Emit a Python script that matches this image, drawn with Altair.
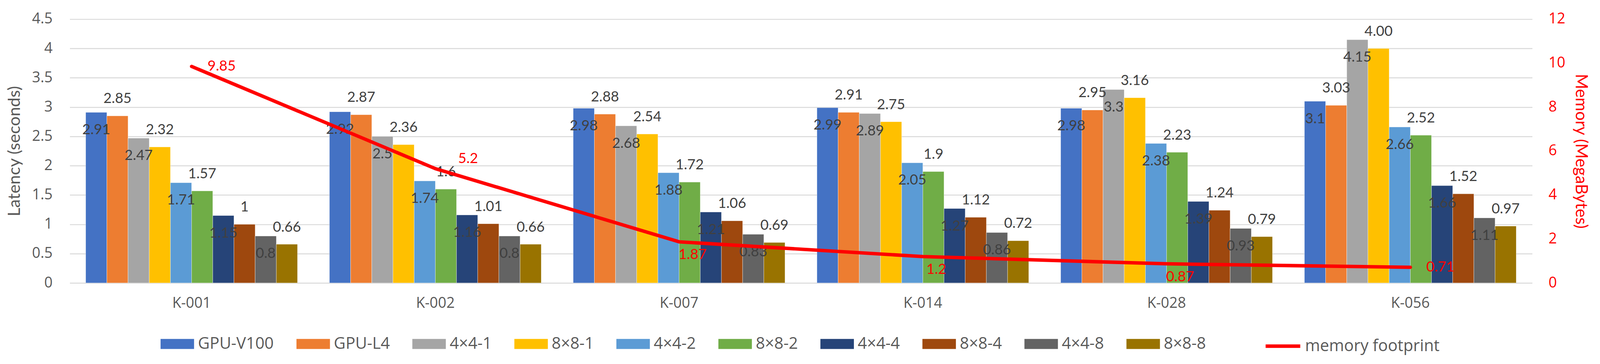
import altair as alt
import pandas as pd

kernels = ["K-001", "K-002", "K-007", "K-014", "K-028", "K-056"]
series = ["GPU-V100", "GPU-L4", "4×4-1", "8×8-1", "4×4-2", "8×8-2",
          "4×4-4", "8×8-4", "4×4-8", "8×8-8"]
colors = ["#4472C4", "#ED7D31", "#A5A5A5", "#FFC000", "#5B9BD5", "#70AD47",
          "#264478", "#9E480E", "#636363", "#997300"]

# latency (seconds) per series, one value per kernel (as printed in the labels)
gpu_v100 = ["2.91", "2.92", "2.98", "2.99", "2.98", "3.1"]
gpu_l4 = ["2.85", "2.87", "2.88", "2.91", "2.95", "3.03"]
p4x4_1 = ["2.47", "2.5", "2.68", "2.89", "3.3", "4.15"]
p8x8_1 = ["2.32", "2.36", "2.54", "2.75", "3.16", "4.00"]
p4x4_2 = ["1.71", "1.74", "1.88", "2.05", "2.38", "2.66"]
p8x8_2 = ["1.57", "1.6", "1.72", "1.9", "2.23", "2.52"]
p4x4_4 = ["1.15", "1.16", "1.21", "1.27", "1.39", "1.66"]
p8x8_4 = ["1", "1.01", "1.06", "1.12", "1.24", "1.52"]
p4x4_8 = ["0.8", "0.8", "0.83", "0.86", "0.93", "1.11"]
p8x8_8 = ["0.66", "0.66", "0.69", "0.72", "0.79", "0.97"]

# memory footprint (MegaBytes)
memory = ["9.85", "5.2", "1.87", "1.2", "0.87", "0.71"]
memory_name = "memory footprint"

all_series = [gpu_v100, gpu_l4, p4x4_1, p8x8_1, p4x4_2, p8x8_2,
              p4x4_4, p8x8_4, p4x4_8, p8x8_8]

rows = []
for si, (name, vals) in enumerate(zip(series, all_series)):
    for k, v in zip(kernels, vals):
        rows.append({"kernel": k, "series": name, "latency": float(v),
                     "label": v, "above": si % 2 == 1})
bars_df = pd.DataFrame(rows)

mem_df = pd.DataFrame({"kernel": kernels,
                       "memory": [float(m) for m in memory],
                       "label": memory,
                       "name": [memory_name] * len(kernels)})

LABEL_FONT = "Lato"
TICK_FONT = "Open Sans"
GRAY = "#595959"

x_enc = alt.X("kernel:N", sort=kernels, title=None,
              scale=alt.Scale(paddingInner=0.131, paddingOuter=0.0655),
              axis=alt.Axis(labelFont=TICK_FONT, labelFontSize=38, labelColor=GRAY,
                            labelAngle=0, ticks=False, domain=False, labelPadding=34))
xoff = alt.XOffset("series:N", sort=series, scale=alt.Scale(paddingInner=0, paddingOuter=0))
y_left = alt.Y("latency:Q",
               scale=alt.Scale(domain=[0, 4.5], nice=False),
               axis=alt.Axis(title="Latency (seconds)", values=[i * 0.5 for i in range(10)],
                             format="~g",
                             labelFont=TICK_FONT, labelFontSize=38, labelColor=GRAY,
                             titleFont=LABEL_FONT, titleFontSize=44, titleColor=GRAY,
                             titleFontWeight="normal", titlePadding=22,
                             ticks=False, domain=False, labelPadding=45,
                             grid=True, gridColor="#D9D9D9", gridWidth=2.5))

bars = alt.Chart(bars_df).mark_bar(stroke="white", strokeWidth=0.6).encode(
    x=x_enc,
    xOffset=xoff,
    y=y_left,
    color=alt.Color("series:N", sort=series,
                    scale=alt.Scale(domain=series, range=colors),
                    legend=alt.Legend(title=None, orient="none", legendX=236, legendY=801,
                                      direction="horizontal",
                                      symbolType="M-1,-0.3H1V0.3H-1Z", symbolSize=7569,
                                      symbolStrokeWidth=0,
                                      labelFont=TICK_FONT, labelFontSize=42, labelColor=GRAY,
                                      labelOffset=10, columnPadding=58, labelLimit=400)),
)

text_base = alt.Chart(bars_df).encode(
    x=alt.X("kernel:N", sort=kernels),
    xOffset=xoff,
    y=alt.Y("latency:Q"),
    text="label:N",
)
labels_above = text_base.transform_filter("datum.above").mark_text(
    font=LABEL_FONT, fontSize=37, color="#404040", baseline="middle", dy=-44)
labels_inside = text_base.transform_filter("!datum.above").mark_text(
    font=LABEL_FONT, fontSize=37, color="#404040", baseline="middle", dy=46)

y_right = alt.Y("memory:Q",
                scale=alt.Scale(domain=[0, 12], nice=False),
                axis=alt.Axis(orient="right", title="Memory (MegaBytes)", values=list(range(0, 13, 2)),
                              format="~g",
                              labelFont=TICK_FONT, labelFontSize=38, labelColor="#FF0000",
                              titleFont=LABEL_FONT, titleFontSize=43, titleColor="#FF0000",
                              titleFontWeight="normal", titlePadding=18,
                              ticks=False, domain=False, labelPadding=42, grid=False))

line = alt.Chart(mem_df).mark_line(strokeWidth=9, strokeCap="round", strokeJoin="round").encode(
    x=alt.X("kernel:N", sort=kernels),
    y=y_right,
    stroke=alt.Stroke("name:N", scale=alt.Scale(domain=[memory_name], range=["#FF0000"]),
                      legend=alt.Legend(title=None, orient="none", legendX=3102, legendY=801,
                                        symbolType="stroke", symbolSize=8100,
                                        symbolStrokeWidth=9,
                                        labelFont=TICK_FONT, labelFontSize=42, labelColor=GRAY,
                                        labelOffset=8, labelLimit=500)),
)

mem_text = alt.Chart(mem_df).encode(
    x=alt.X("kernel:N", sort=kernels),
    y=alt.Y("memory:Q"),
    text="label:N",
)
mem_right = mem_text.transform_filter(
    alt.FieldOneOfPredicate(field="kernel", oneOf=[kernels[0], kernels[-1]])
).mark_text(font=LABEL_FONT, fontSize=37, color="#FF0000", baseline="middle", dx=78, dy=0)
mem_up = mem_text.transform_filter(
    alt.FieldOneOfPredicate(field="kernel", oneOf=[kernels[1]])
).mark_text(font=LABEL_FONT, fontSize=37, color="#FF0000", baseline="middle", dx=85, dy=-25)
mem_down = mem_text.transform_filter(
    alt.FieldOneOfPredicate(field="kernel", oneOf=kernels[2:5])
).mark_text(font=LABEL_FONT, fontSize=37, color="#FF0000", baseline="middle", dx=35, dy=34)

left_layer = alt.layer(bars, labels_above, labels_inside)
right_layer = alt.layer(line, mem_right, mem_up, mem_down)

chart = alt.layer(left_layer, right_layer).resolve_scale(
    y="independent", color="independent", stroke="independent"
).properties(
    width=3799, height=686,
    padding={"left": 173, "top": 35, "right": 168, "bottom": 195},
    autosize=alt.AutoSizeParams(type="none"),
    background="white",
).configure_view(stroke=None)

chart.save("out.html", embed_options={"renderer": "svg", "actions": False})
